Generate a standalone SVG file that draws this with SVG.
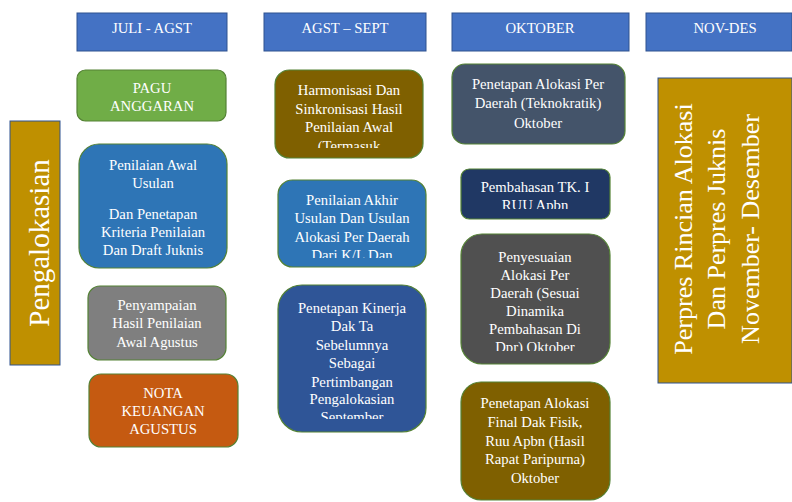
<svg xmlns="http://www.w3.org/2000/svg" width="792" height="502" viewBox="0 0 792 502">
<style>
text{font-family:'Liberation Serif','Tinos','DejaVu Serif',serif;fill:#FFFFFF;text-anchor:middle}
.t{font-size:14.7px}
.hd{fill:#4472C4;stroke:#2F528F;stroke-width:1}
.gold{fill:#BF9000;stroke:#2F528F;stroke-width:1}
.bx{stroke:#548235;stroke-width:1.2}
</style>
<defs>
<clipPath id="c1"><rect x="275" y="70" width="149" height="78"/></clipPath>
<clipPath id="c2"><rect x="278" y="180" width="149" height="78"/></clipPath>
<clipPath id="c3"><rect x="278" y="285" width="149" height="134"/></clipPath>
<clipPath id="c4"><rect x="461" y="169" width="150" height="40"/></clipPath>
<clipPath id="c5"><rect x="461" y="234" width="150" height="117"/></clipPath>
</defs>
<g font-family="Liberation Serif, serif">
<g id="headers">
<g id="h1"><rect class="hd" x="77" y="13" width="150" height="38"/><text class="t" x="152" y="33">JULI - AGST</text></g>
<g id="h2"><rect class="hd" x="264" y="13" width="162" height="38"/><text class="t" x="345" y="33">AGST – SEPT</text></g>
<g id="h3"><rect class="hd" x="452" y="13" width="177" height="38"/><text class="t" x="540" y="33">OKTOBER</text></g>
<g id="h4"><rect class="hd" x="646" y="13" width="146" height="38"/><text class="t" x="725" y="33">NOV-DES</text></g>
</g>

<g id="pengalokasian"><rect class="gold" x="10" y="121" width="50" height="244"/>
<text transform="translate(35,243) rotate(-90)" x="0" y="14" font-size="29">Pengalokasian</text></g>

<g id="pagu"><rect class="bx" fill="#70AD47" x="77" y="70" width="149" height="51" rx="8.5"/>
<text class="t" x="152" y="93">PAGU</text><text class="t" x="152" y="111">ANGGARAN</text></g>

<g id="penilaian-awal"><rect class="bx" fill="#2E75B6" x="79" y="144" width="148" height="124" rx="20"/>
<text class="t" x="153" y="170">Penilaian Awal</text><text class="t" x="153" y="188">Usulan</text>
<text class="t" x="153" y="219">Dan Penetapan</text><text class="t" x="153" y="237">Kriteria Penilaian</text><text class="t" x="153" y="255">Dan Draft Juknis</text></g>

<g id="penyampaian"><rect class="bx" fill="#7F7F7F" x="88" y="286" width="138" height="74" rx="12"/>
<text class="t" x="157" y="310">Penyampaian</text><text class="t" x="157" y="328">Hasil Penilaian</text><text class="t" x="157" y="347">Awal Agustus</text></g>

<g id="nota"><rect class="bx" fill="#C55A11" x="89" y="374" width="149" height="73" rx="12"/>
<text class="t" x="163" y="398">NOTA</text><text class="t" x="163" y="416">KEUANGAN</text><text class="t" x="163" y="434">AGUSTUS</text></g>

<g id="harmonisasi"><rect class="bx" fill="#7F6000" x="275" y="70" width="148" height="88" rx="14.5"/>
<g clip-path="url(#c1)"><text class="t" x="349" y="95">Harmonisasi Dan</text><text class="t" x="349" y="114">Sinkronisasi Hasil</text><text class="t" x="349" y="132">Penilaian Awal</text><text class="t" x="349" y="151">(Termasuk</text></g></g>

<g id="penilaian-akhir"><rect class="bx" fill="#2E75B6" x="278" y="180" width="148" height="87" rx="14.5"/>
<g clip-path="url(#c2)"><text class="t" x="352" y="205">Penilaian Akhir</text><text class="t" x="352" y="223">Usulan Dan Usulan</text><text class="t" x="352" y="242">Alokasi Per Daerah</text><text class="t" x="352" y="260">Dari K/L Dan</text></g></g>

<g id="kinerja"><rect class="bx" fill="#2F5597" x="278" y="285" width="148" height="147" rx="24"/>
<g clip-path="url(#c3)"><text class="t" x="352" y="313">Penetapan Kinerja</text><text class="t" x="352" y="331">Dak Ta</text><text class="t" x="352" y="350">Sebelumnya</text><text class="t" x="352" y="368">Sebagai</text><text class="t" x="352" y="387">Pertimbangan</text><text class="t" x="352" y="404">Pengalokasian</text><text class="t" x="352" y="422">September</text></g></g>

<g id="teknokratik"><rect class="bx" fill="#44546A" x="452" y="64" width="173" height="80" rx="13"/>
<text class="t" x="538" y="89">Penetapan Alokasi Per</text><text class="t" x="538" y="108">Daerah (Teknokratik)</text><text class="t" x="538" y="128">Oktober</text></g>

<g id="pembahasan"><rect class="bx" fill="#203864" x="461" y="169" width="149" height="50" rx="8.3"/>
<g clip-path="url(#c4)"><text class="t" x="535" y="192">Pembahasan TK. I</text><text class="t" x="535" y="210">RUU Apbn</text></g></g>

<g id="penyesuaian"><rect class="bx" fill="#505050" x="461" y="234" width="149" height="130" rx="21"/>
<g clip-path="url(#c5)"><text class="t" x="535" y="262">Penyesuaian</text><text class="t" x="535" y="280">Alokasi Per</text><text class="t" x="535" y="298">Daerah (Sesuai</text><text class="t" x="535" y="316">Dinamika</text><text class="t" x="535" y="334">Pembahasan Di</text><text class="t" x="535" y="352">Dpr) Oktober</text></g></g>

<g id="final"><rect class="bx" fill="#7F6000" x="461" y="382" width="149" height="118" rx="20"/>
<text class="t" x="535" y="408">Penetapan Alokasi</text><text class="t" x="535" y="427">Final Dak Fisik,</text><text class="t" x="535" y="446">Ruu Apbn (Hasil</text><text class="t" x="535" y="464">Rapat Paripurna)</text><text class="t" x="535" y="483">Oktober</text></g>

<g id="perpres"><rect class="gold" x="658" y="78" width="134" height="305"/>
<text transform="translate(692,229) rotate(-90)" x="0" y="0" font-size="26">Perpres Rincian Alokasi</text>
<text transform="translate(725,229) rotate(-90)" x="0" y="0" font-size="26">Dan Perpres Juknis</text>
<text transform="translate(759,229) rotate(-90)" x="0" y="0" font-size="26">November- Desember</text></g>
</g>
<g id="connectors"></g>
</svg>
